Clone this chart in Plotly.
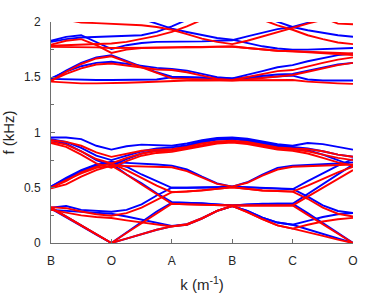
import plotly.graph_objects as go

# sampling positions along the path B-O-A-B-C-O (quarter steps)
k_pos = [0, 0.25, 0.5, 0.75, 1, 1.25, 1.5, 1.75, 2, 2.25, 2.5, 2.75, 3,
         3.25, 3.5, 3.75, 4, 4.25, 4.5, 4.75, 5]
tick_vals = [0, 1, 2, 3, 4, 5]
tick_text = ["B", "O", "A", "B", "C", "O"]
f_ticks = [0, 0.5, 1, 1.5, 2]
f_tick_text = ["0", "0.5", "1", "1.5", "2"]

# ---- blue bands (kHz) ----
b1 = [0.32,0.24,0.16,0.08,0.00, 0.04,0.08,0.12,0.15, 0.165,0.22,0.29,0.335, 0.29,0.23,0.185,0.165, 0.125,0.085,0.04,0.00]
b2 = [0.32,0.335,0.30,0.29,0.283, 0.30,0.35,0.43,0.50, 0.50,0.50,0.505,0.51, 0.505,0.50,0.495,0.49, 0.42,0.34,0.29,0.272]
b3 = [0.51,0.58,0.65,0.70,0.72, 0.62,0.54,0.45,0.37, 0.365,0.36,0.35,0.34, 0.35,0.355,0.355,0.355, 0.27,0.18,0.09,0.00]
b4 = [0.31,0.235,0.155,0.075,0.00, 0.095,0.19,0.285,0.365, 0.365,0.36,0.35,0.34, 0.35,0.355,0.355,0.355, 0.445,0.535,0.625,0.71]
b5 = [0.30,0.29,0.28,0.27,0.265, 0.24,0.21,0.18,0.155, 0.17,0.225,0.29,0.335, 0.29,0.23,0.185,0.165, 0.20,0.235,0.26,0.272]
b6 = [0.51,0.59,0.66,0.71,0.73, 0.69,0.62,0.56,0.50, 0.50,0.50,0.505,0.51, 0.505,0.50,0.49,0.485, 0.56,0.63,0.70,0.76]
b7 = [0.50,0.57,0.64,0.70,0.735, 0.725,0.72,0.71,0.70, 0.665,0.60,0.54,0.51, 0.55,0.62,0.68,0.70, 0.705,0.71,0.72,0.73]
b8 = [0.955,0.955,0.94,0.88,0.845, 0.875,0.89,0.885,0.88, 0.90,0.93,0.95,0.955, 0.945,0.92,0.895,0.88, 0.905,0.895,0.87,0.845]
b9 = [0.94,0.915,0.86,0.79,0.75, 0.79,0.83,0.855,0.865, 0.885,0.92,0.94,0.945, 0.935,0.91,0.885,0.87, 0.855,0.83,0.80,0.78]
b10 = [0.93,0.90,0.83,0.75,0.70, 0.76,0.81,0.84,0.85, 0.875,0.91,0.935,0.94, 0.925,0.90,0.875,0.86, 0.84,0.80,0.75,0.70]
ub1 = [1.485,1.48,1.475,1.475,1.475, 1.475,1.475,1.48,1.50, 1.50,1.495,1.49,1.485, 1.49,1.50,1.51,1.515, 1.48,1.47,1.47,1.47]
ub2 = [1.49,1.55,1.60,1.63,1.64, 1.62,1.60,1.585,1.575, 1.56,1.53,1.50,1.49, 1.52,1.555,1.59,1.61, 1.645,1.675,1.70,1.715]
ub3 = [1.48,1.56,1.63,1.68,1.70, 1.65,1.60,1.545,1.505, 1.50,1.495,1.49,1.49, 1.50,1.515,1.525,1.53, 1.56,1.59,1.615,1.63]
ub4 = [1.83,1.865,1.88,1.82,1.755, 1.79,1.81,1.82,1.82, 1.82,1.825,1.83,1.835, 1.87,1.90,1.935,1.955, 1.99,2.03,None,None]
ub5 = [1.82,1.845,1.86,1.865,1.867, 1.87,1.88,1.91,1.96, 2.02,None,None,None, None,2.05,2.0,1.955, 1.925,1.90,1.88,1.867]
ub6 = [None,None,None,None,None, None,2.03,1.985,1.94, 1.91,1.88,1.855,1.84, 1.81,1.78,1.76,1.75, 1.75,1.755,1.76,1.765]

# ---- red bands (kHz) ----
r1 = [0.32,0.24,0.16,0.08,0.00, 0.04,0.08,0.12,0.15, 0.165,0.22,0.29,0.335, 0.28,0.215,0.16,0.13, 0.10,0.065,0.03,0.00]
r2 = [0.325,0.315,0.285,0.26,0.247, 0.27,0.32,0.39,0.46, 0.465,0.475,0.49,0.505, 0.49,0.475,0.47,0.465, 0.40,0.32,0.265,0.24]
r3 = [0.50,0.57,0.63,0.68,0.70, 0.62,0.53,0.44,0.355, 0.35,0.345,0.34,0.34, 0.34,0.34,0.34,0.34, 0.255,0.17,0.085,0.00]
r4 = [0.315,0.235,0.155,0.075,0.00, 0.09,0.18,0.27,0.355, 0.35,0.345,0.34,0.34, 0.34,0.34,0.34,0.34, 0.42,0.50,0.58,0.66]
r5 = [0.30,0.275,0.25,0.235,0.226, 0.205,0.185,0.165,0.15, 0.17,0.225,0.29,0.335, 0.28,0.215,0.16,0.13, 0.165,0.195,0.215,0.227]
r6 = [0.50,0.56,0.64,0.69,0.72, 0.66,0.59,0.52,0.46, 0.465,0.475,0.49,0.505, 0.49,0.475,0.47,0.465, 0.52,0.58,0.64,0.69]
r7 = [0.495,0.53,0.60,0.66,0.70, 0.695,0.69,0.685,0.685, 0.65,0.59,0.535,0.51, 0.545,0.61,0.665,0.69, 0.695,0.70,0.705,0.71]
r8 = [0.93,0.915,0.88,0.82,0.78, 0.81,0.835,0.845,0.85, 0.87,0.90,0.92,0.925, 0.915,0.89,0.865,0.855, 0.85,0.83,0.80,0.78]
r9 = [0.915,0.89,0.83,0.76,0.72, 0.77,0.81,0.83,0.835, 0.86,0.89,0.91,0.915, 0.905,0.88,0.855,0.845, 0.83,0.80,0.77,0.75]
r10 = [0.905,0.87,0.80,0.72,0.68, 0.74,0.79,0.815,0.825, 0.85,0.88,0.90,0.91, 0.895,0.87,0.845,0.835, 0.81,0.77,0.73,0.70]
ur1 = [1.46,1.45,1.445,1.445,1.445, 1.45,1.455,1.46,1.47, 1.47,1.47,1.47,1.47, 1.47,1.47,1.47,1.475, 1.46,1.45,1.445,1.44]
ur2 = [1.47,1.53,1.58,1.615,1.625, 1.605,1.585,1.57,1.565, 1.545,1.515,1.485,1.475, 1.50,1.53,1.555,1.565, 1.60,1.63,1.66,1.68]
ur3 = [1.465,1.55,1.62,1.67,1.69, 1.64,1.585,1.535,1.49, 1.485,1.48,1.475,1.47, 1.48,1.495,1.51,1.52, 1.55,1.58,1.61,1.63]
ur4 = [1.795,1.83,1.845,1.79,1.72, 1.75,1.765,1.77,1.77, 1.775,1.775,1.78,1.78, 1.765,1.75,1.74,1.735, 1.73,1.725,1.72,1.715]
ur5 = [1.785,1.79,1.80,1.80,1.805, 1.82,1.845,1.875,1.91, 1.96,2.02,None,None, None,2.02,1.97,1.93, 1.88,1.845,1.815,1.80]
ur6 = [None,2.02,1.995,1.99,1.985, 1.98,1.97,1.955,1.93, 1.89,1.85,1.82,1.80, 1.83,1.87,1.91,1.95, 1.985,2.02,None,None]
ur7 = [None,None,None,None,None, None,None,None,None, None,None,None,None, None,None,None,None, None,2.04,1.985,1.98]
ur8 = [1.775,1.775,1.77,1.77,1.765, 1.765,1.765,1.765,1.765, 1.77,1.77,1.775,1.775, 1.765,1.75,1.74,1.735, 1.725,1.715,1.705,1.70]

blue_bands = [b1, b2, b3, b4, b5, b6, b7, b8, b9, b10, ub1, ub2, ub3, ub4, ub5, ub6]
red_bands = [r1, r2, r3, r4, r5, r6, r7, r8, r9, r10, ur1, ur2, ur3, ur4, ur5, ur6, ur7, ur8]

fig = go.Figure()
for band in blue_bands:
    fig.add_trace(go.Scatter(x=k_pos, y=band, mode="lines",
                             line=dict(color="#0000FF", width=1.9),
                             connectgaps=False, hoverinfo="skip"))
for band in red_bands:
    fig.add_trace(go.Scatter(x=k_pos, y=band, mode="lines",
                             line=dict(color="#FF0000", width=1.9),
                             connectgaps=False, hoverinfo="skip"))

axis_col = "#6e6e6e"
fig.update_layout(
    width=392, height=293,
    margin=dict(l=51, r=39, t=22, b=50),
    plot_bgcolor="white", paper_bgcolor="white",
    showlegend=False,
    font=dict(family="Liberation Sans, Arial, sans-serif", color="#262626"),
)
fig.update_xaxes(
    range=[0, 5], tickvals=tick_vals, ticktext=tick_text, automargin=False,
    ticks="inside", ticklen=4, tickcolor=axis_col, tickwidth=1,
    showline=True, linecolor=axis_col, linewidth=1,
    showgrid=False, zeroline=False,
    tickfont=dict(size=12, color="#262626"), ticklabelstandoff=7,
    title=dict(text="k (m<sup>-1</sup>)", font=dict(size=15, color="#262626"), standoff=14),
)
fig.update_yaxes(
    range=[0, 2], tickvals=f_ticks, ticktext=f_tick_text, automargin=False,
    ticks="inside", ticklen=4, tickcolor=axis_col, tickwidth=1,
    minor=dict(ticks="inside", dtick=0.25, ticklen=3, tickcolor=axis_col),
    showline=True, linecolor=axis_col, linewidth=1,
    showgrid=False, zeroline=False,
    tickfont=dict(size=12, color="#262626"), ticklabelstandoff=7,
    title=dict(text="f (kHz)", font=dict(size=15, color="#262626"), standoff=6),
)

fig.write_html("out.html", config={"displayModeBar": False},
               post_script="document.body.style.margin='0px';document.body.style.overflow='hidden';")
